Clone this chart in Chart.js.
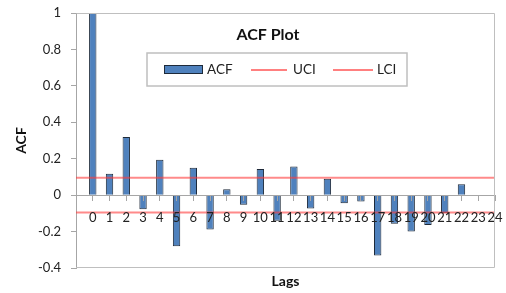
<!DOCTYPE html>
<html><head><meta charset="utf-8">
<style>html,body{margin:0;padding:0;background:#fff}#wrap{width:506px;height:293px;position:relative}</style>
<script src="https://cdn.jsdelivr.net/npm/chart.js@4.4.0/dist/chart.umd.min.js"></script>
</head><body><div id="wrap"><canvas id="c"></canvas></div>
<script>
// ---- data ----
const lags = [0,1,2,3,4,5,6,7,8,9,10,11,12,13,14,15,16,17,18,19,20,21,22,23,24];
const acfValues = [1.0, 0.117, 0.319, -0.078, 0.195, -0.280, 0.150, -0.188, 0.033, -0.053, 0.143, -0.141, 0.157, -0.073, 0.090, -0.044, -0.035, -0.331, -0.157, -0.200, -0.164, -0.100, 0.060, null, null];
const uciValue = 0.095;
const lciValue = -0.095;
const yTickValues = [-0.4, -0.2, 0, 0.2, 0.4, 0.6, 0.8, 1];
const chartTitle = 'ACF Plot';
const xTitle = 'Lags';
const yTitle = 'ACF';

// leading blank category (as in the source worksheet)
const categories = [''].concat(lags.map(String));
const acfSeries = [null].concat(acfValues);
const uciSeries = categories.map(() => uciValue);
const lciSeries = categories.map(() => lciValue);

const FONT = 'Lato, "Open Sans", sans-serif';
const AXIS_GRAY = '#a6a6a6';
const BORDER_GRAY = '#bfbfbf';
Chart.defaults.font.family = FONT;
Chart.defaults.color = '#222';

const overlayPlugin = {
  id: 'overlay',
  afterDraw(chart) {
    const {ctx, chartArea: a} = chart;
    ctx.save();
    // plot border
    ctx.strokeStyle = BORDER_GRAY;
    ctx.lineWidth = 1;
    ctx.beginPath();
    ctx.moveTo(a.left + 0.5, a.top + 0.5);
    ctx.lineTo(a.right - 0.5, a.top + 0.5);
    ctx.lineTo(a.right - 0.5, a.bottom - 0.5);
    ctx.lineTo(a.left, a.bottom - 0.5);
    ctx.stroke();
    // title
    ctx.fillStyle = '#111';
    ctx.font = 'bold 16px ' + FONT;
    ctx.textAlign = 'center';
    ctx.textBaseline = 'middle';
    ctx.fillText(chartTitle, 268, 35);
    // legend box
    const lx = 147, ly = 53, lw = 260, lh = 33;
    ctx.fillStyle = '#fff';
    ctx.fillRect(lx, ly, lw, lh);
    ctx.strokeStyle = BORDER_GRAY;
    ctx.lineWidth = 1.5;
    ctx.strokeRect(lx, ly, lw, lh);
    const ds = chart.data.datasets;
    const cy = ly + lh / 2;
    ctx.font = '13.5px ' + FONT;
    ctx.textAlign = 'left';
    // ACF swatch
    ctx.fillStyle = ds[2].backgroundColor;
    ctx.fillRect(164, cy - 4.5, 39, 9);
    ctx.strokeStyle = ds[2].borderColor;
    ctx.lineWidth = 1;
    ctx.strokeRect(164.5, cy - 4, 38, 8);
    ctx.fillStyle = '#222';
    ctx.fillText(ds[2].label, 207, cy + 0.5);
    // UCI
    ctx.strokeStyle = '#ff0000';
    ctx.lineWidth = 1;
    ctx.beginPath(); ctx.moveTo(251, cy + 0.5); ctx.lineTo(287, cy + 0.5); ctx.stroke();
    ctx.fillText(ds[0].label, 293, cy + 0.5);
    // LCI
    ctx.beginPath(); ctx.moveTo(333, cy + 0.5); ctx.lineTo(373, cy + 0.5); ctx.stroke();
    ctx.fillText(ds[1].label, 377, cy + 0.5);
    ctx.restore();
  }
};

new Chart(document.getElementById('c'), {
  type: 'bar',
  data: {
    labels: categories,
    datasets: [
      { type: 'line', label: 'UCI', data: uciSeries, borderColor: 'rgba(255,60,60,0.6)', borderWidth: 2, pointRadius: 0, fill: false, order: 1, xAxisID: 'x' },
      { type: 'line', label: 'LCI', data: lciSeries, borderColor: 'rgba(255,60,60,0.6)', borderWidth: 2, pointRadius: 0, fill: false, order: 1, xAxisID: 'x' },
      { type: 'bar', label: 'ACF', data: acfSeries, backgroundColor: '#4f81bd', borderColor: '#1e2a3a', borderWidth: 1, barPercentage: 0.44, categoryPercentage: 1, order: 2, xAxisID: 'x' }
    ]
  },
  options: {
    responsive: true,
    maintainAspectRatio: false,
    animation: false,
    layout: { padding: { top: 13, right: 11, left: 0, bottom: 0 } },
    plugins: { legend: { display: false }, title: { display: false }, tooltip: { enabled: false } },
    scales: {
      x: {
        type: 'category', position: 'bottom', offset: false,
        grid: { display: false, drawTicks: false, offset: false },
        border: { display: false },
        ticks: { display: false },
        title: { display: true, text: xTitle, font: { size: 14, weight: 'bold' }, color: '#111', padding: { top: 0, bottom: 3 } },
        afterFit: (s) => { s.height = 25; s.paddingLeft = 0; s.paddingRight = 0; }
      },
      x2: {
        type: 'category', position: { y: 0 }, offset: false,
        grid: { drawOnChartArea: false, drawTicks: true, tickLength: 5, color: AXIS_GRAY, offset: false, z: 1 },
        border: { display: true, color: AXIS_GRAY, width: 1, z: 1 },
        ticks: { z: 2, autoSkip: false, maxRotation: 0, minRotation: 0, padding: 10, font: { size: 13 }, color: '#222' },
        afterFit: (s) => { s.height = 0; s.paddingLeft = 0; s.paddingRight = 0; }
      },
      y: {
        type: 'linear', position: 'left', min: -0.4, max: 1,
        afterBuildTicks: (s) => { s.ticks = yTickValues.map(v => ({ value: v })); },
        grid: { drawOnChartArea: false, drawTicks: true, tickLength: 5, color: AXIS_GRAY },
        border: { display: true, color: AXIS_GRAY, width: 1 },
        ticks: { padding: 10, font: { size: 13 }, color: '#222', callback: (v) => String(Math.round(v * 10) / 10) },
        title: { display: true, text: yTitle, font: { size: 14, weight: 'bold' }, color: '#111', padding: { top: 13, bottom: 0 } },
        afterFit: (s) => { s.width = 76; s.paddingTop = 0; s.paddingBottom = 0; }
      }
    }
  },
  plugins: [overlayPlugin]
});
</script>
</body></html>
